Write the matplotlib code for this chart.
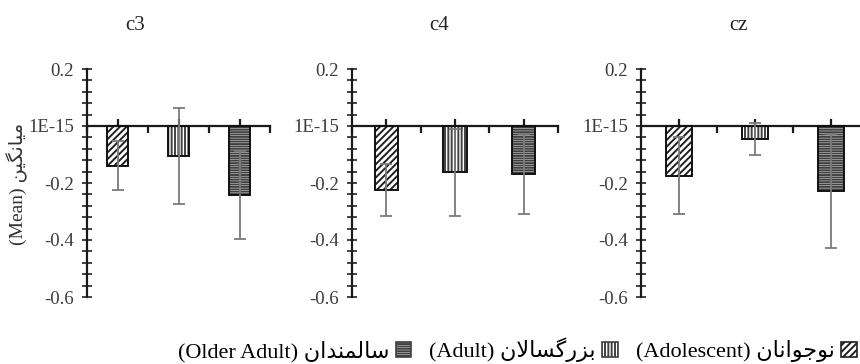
import matplotlib
matplotlib.use("Agg")
import matplotlib.pyplot as plt
from matplotlib.patches import Rectangle
from matplotlib.ticker import FixedLocator, MultipleLocator

# ---------------- data ----------------
channels = ["c3", "c4", "cz"]
groups_en = ["Adolescent", "Adult", "Older Adult"]
groups_fa = ["نوجوانان", "بزرگسالان", "سالمندان"]
mean_c3 = [-0.139, -0.106, -0.242]
err_c3 = [0.085, 0.168, 0.155]
mean_c4 = [-0.225, -0.163, -0.168]
err_c4 = [0.090, 0.152, 0.141]
mean_cz = [-0.174, -0.045, -0.229]
err_cz = [0.135, 0.055, 0.200]
ytick_values = [0.2, 0.0, -0.2, -0.4, -0.6]
ytick_labels = ["0.2", "1E-15", "-0.2", "-0.4", "-0.6"]
ylabel_en = "(Mean)"
ylabel_fa = "میانگین"

# ------------- simple Persian shaping (matplotlib has no bidi/shaping) -------------
FORMS = {  # isolated, final, initial, medial
    "\u0627": ("\uFE8D", "\uFE8E", None, None),
    "\u0628": ("\uFE8F", "\uFE90", "\uFE91", "\uFE92"),
    "\u062C": ("\uFE9D", "\uFE9E", "\uFE9F", "\uFEA0"),
    "\u062F": ("\uFEA9", "\uFEAA", None, None),
    "\u0631": ("\uFEAD", "\uFEAE", None, None),
    "\u0632": ("\uFEAF", "\uFEB0", None, None),
    "\u0633": ("\uFEB1", "\uFEB2", "\uFEB3", "\uFEB4"),
    "\u0644": ("\uFEDD", "\uFEDE", "\uFEDF", "\uFEE0"),
    "\u0645": ("\uFEE1", "\uFEE2", "\uFEE3", "\uFEE4"),
    "\u0646": ("\uFEE5", "\uFEE6", "\uFEE7", "\uFEE8"),
    "\u0648": ("\uFEED", "\uFEEE", None, None),
    "\u06CC": ("\uFBFC", "\uFBFD", "\uFBFE", "\uFBFF"),
    "\u06AF": ("\uFB92", "\uFB93", "\uFB94", "\uFB95"),
}


def shape(word):
    w = word.replace("\u064A", "\u06CC")
    out = []
    i = 0
    n = len(w)
    while i < n:
        c = w[i]
        prev_joins = i > 0 and w[i - 1] in FORMS and FORMS[w[i - 1]][2] is not None
        if c == "\u0644" and i + 1 < n and w[i + 1] == "\u0627":
            out.append("\uFEFC" if prev_joins else "\uFEFB")
            i += 2
            continue
        f = FORMS.get(c)
        if f is None:
            out.append(c)
            i += 1
            continue
        next_ar = i + 1 < n and w[i + 1] in FORMS
        can_next = f[2] is not None and next_ar
        if prev_joins and can_next:
            out.append(f[3])
        elif prev_joins:
            out.append(f[1])
        elif can_next:
            out.append(f[2])
        else:
            out.append(f[0])
        i += 1
    return "".join(reversed(out))


MIXED = ["Liberation Serif", "DejaVu Sans"]
plt.rcParams["font.family"] = MIXED
plt.rcParams["hatch.linewidth"] = 1.4

W, H = 860, 364
fig = plt.figure(figsize=(W / 100, H / 100), dpi=100)

ybot, ytop = 297, 69
panels = [(87, 270), (352, 558), (641, 869)]
title_x = [135, 439, 738]
means = [mean_c3, mean_c4, mean_cz]
errs = [err_c3, err_c4, err_cz]
hatches = ["/////", "|||||", "-------"]
hatch_cols = ["#202020", "#404040", "#404040"]

for k, ((x0, x1), ch, m, e, tx) in enumerate(zip(panels, channels, means, errs, title_x)):
    ax = fig.add_axes([x0 / W, (H - ybot) / H, (x1 - x0) / W, (ybot - ytop) / H])
    xs = [i + 0.5 for i in range(len(m))]
    for i, (x, v, er) in enumerate(zip(xs, m, e)):
        ax.bar(x, v, width=0.34, color="white", edgecolor=hatch_cols[i],
               hatch=hatches[i], linewidth=0, zorder=2)
        ax.bar(x, v, width=0.34, fill=False, edgecolor="#111111", linewidth=1.4, zorder=3)
        ax.errorbar(x, v, yerr=er, fmt="none", ecolor="#7a7a7a", elinewidth=1.3,
                    capsize=4, capthick=1.3, zorder=4)
    ax.set_xlim(0, 3)
    ax.set_ylim(-0.6, 0.2)
    ax.spines["top"].set_visible(False)
    ax.spines["right"].set_visible(False)
    ax.spines["bottom"].set_position(("data", 0))
    for s in ("left", "bottom"):
        ax.spines[s].set_color("#1a1a1a")
        ax.spines[s].set_linewidth(1.6)
    ax.yaxis.set_major_locator(FixedLocator(ytick_values))
    ax.set_yticklabels(ytick_labels)
    ax.yaxis.set_minor_locator(MultipleLocator(0.04))
    ax.tick_params(axis="y", which="both", direction="inout", length=7, width=1.3,
                   color="#333333", labelsize=13.5, labelcolor="#3a3a3a", pad=6)
    ax.xaxis.set_major_locator(FixedLocator([0, 1, 2, 3]))
    ax.xaxis.set_minor_locator(FixedLocator(xs))
    ax.tick_params(axis="x", which="major", direction="out", length=5, width=1.6,
                   color="#1a1a1a", labelbottom=False)
    ax.tick_params(axis="x", which="minor", direction="in", length=5, width=1.6,
                   color="#1a1a1a", labelbottom=False)
    ax.set_facecolor("none")
    fig.text(tx / W, (H - 25) / H, ch, ha="center", va="center", fontsize=15,
             family=MIXED, color="#222222")

fig.text(17 / W, (H - 184) / H, ylabel_en + " " + shape(ylabel_fa), rotation=90,
         ha="center", va="center", fontsize=14, family=MIXED, color="#333333")

patches = [Rectangle((0, 0), 1, 1, facecolor="white", edgecolor=hatch_cols[i],
                     hatch=hatches[i], linewidth=1.2) for i in range(3)]
labels = ["(" + en + ") " + shape(fa) for en, fa in zip(groups_en, groups_fa)]
order = [2, 1, 0]
fig.legend([patches[i] for i in order], [labels[i] for i in order], ncol=3,
           markerfirst=False, frameon=False, loc="center right",
           bbox_to_anchor=(1.0, (H - 350) / H), fontsize=16,
           handlelength=0.7, handleheight=0.7, handletextpad=0.3,
           columnspacing=0.8, borderaxespad=0.1, borderpad=0.05)

fig.savefig("out.png", dpi=100)
